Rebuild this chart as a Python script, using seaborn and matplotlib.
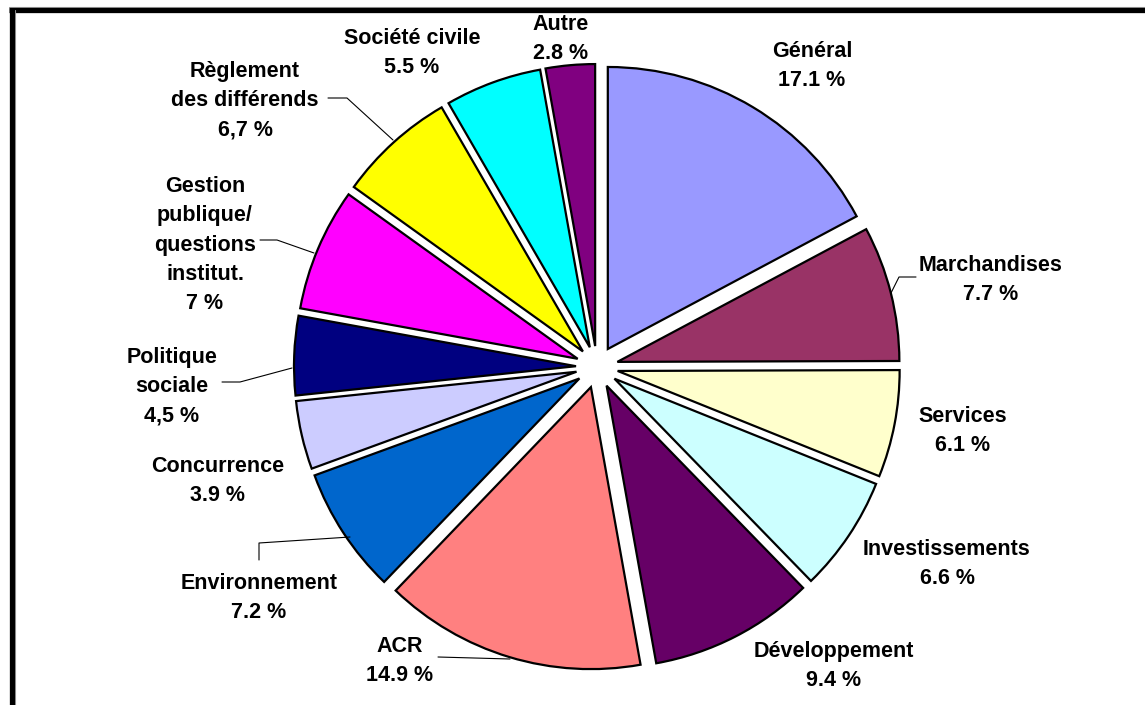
import numpy as np
import matplotlib
import matplotlib.pyplot as plt
import seaborn as sns

matplotlib.use('agg')
sns.set_style('white')
plt.rcParams['font.family'] = ['Liberation Sans', 'DejaVu Sans']

# Data, clockwise from 12 o'clock
categories = ['Général', 'Marchandises', 'Services', 'Investissements',
              'Développement', 'ACR', 'Environnement', 'Concurrence',
              'Politique\nsociale', 'Gestion\npublique/\nquestions\ninstitut.',
              'Règlement\ndes différends', 'Société civile', 'Autre']
shares = [17.1, 7.7, 6.1, 6.6, 9.4, 14.9, 7.2, 3.9, 4.5, 7.0, 6.7, 5.5, 2.8]
share_labels = ['17.1 %', '7.7 %', '6.1 %', '6.6 %', '9.4 %', '14.9 %', '7.2 %',
                '3.9 %', '4,5 %', '7 %', '6,7 %', '5.5 %', '2.8 %']
colors = ['#9999FF', '#993366', '#FFFFCC', '#CCFFFF', '#660066', '#FF8080',
          '#0066CC', '#CCCCFF', '#000080', '#FF00FF', '#FFFF00', '#00FFFF', '#800080']

# Label placement (pixel coords of the image, y from top)
label_pos = [(812, 66), (991, 280), (963, 431), (947, 564), (834, 666),
             (400, 661), (259, 598), (218, 481), (172, 387), (205, 245),
             (245, 101), (412, 53), (561, 39)]
leaders = {
    1: [(916, 277), (899, 277), (891, 293)],
    5: [(438, 657), (510, 659)],
    6: [(259, 560), (259, 543), (350, 537)],
    8: [(222, 382), (240, 382), (292, 368)],
    9: [(260, 240), (277, 240), (314, 253)],
    10: [(328, 98), (347, 98), (393, 140)],
}

W, H = 1145, 705
fig = plt.figure(figsize=(W / 100, H / 100), dpi=100)
ax = fig.add_axes([0, 0, 1, 1])

cx, cy, r = 597, 367, 282
gap = 21  # explode distance in pixels
ax.pie(shares, colors=colors, startangle=90, counterclock=False,
       center=(cx, H - cy), radius=r, explode=[gap] * len(shares),
       wedgeprops=dict(edgecolor='black', linewidth=1.6))

for i, (name, pct) in enumerate(zip(categories, share_labels)):
    px, py = label_pos[i]
    ax.text(px, H - py, f'{name}\n{pct}', ha='center', va='center',
            fontsize=15.5, fontweight='bold', linespacing=1.52, color='black')

for pts in leaders.values():
    xs = [p[0] for p in pts]
    ys = [H - p[1] for p in pts]
    ax.plot(xs, ys, color='black', linewidth=0.8)

# frame: top and left borders
ax.plot([9, W], [H - 7, H - 7], color='#A0A0A0', linewidth=0.8)
ax.plot([9, W], [H - 10, H - 10], color='black', linewidth=3.8, solid_capstyle='butt')
ax.plot([14.5, 14.5], [0, H - 10], color='#A0A0A0', linewidth=0.8)
ax.plot([11.5, 11.5], [0, H - 8], color='black', linewidth=3.8, solid_capstyle='butt')

ax.set_xlim(0, W)
ax.set_ylim(0, H)
ax.set_aspect('auto')
ax.axis('off')

fig.savefig('out.png', dpi=100, facecolor='white')
